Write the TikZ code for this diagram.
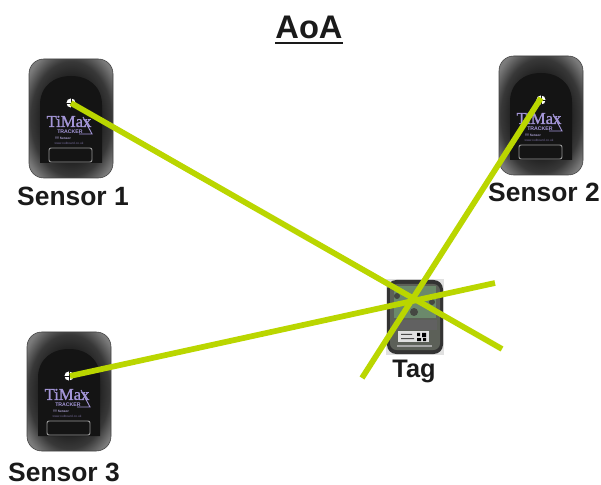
\documentclass[tikz,border=0pt]{standalone}
\usepackage{fontspec}
\setmainfont{Liberation Sans}
\newfontfamily\logofont[FakeBold=1.2]{Liberation Serif}
\usetikzlibrary{calc}
\definecolor{beam}{HTML}{BAD600}
\definecolor{labelc}{HTML}{1A1A1A}
\definecolor{logoc}{HTML}{A496D8}
\definecolor{boardc}{HTML}{5C6058}
\pgfdeclareradialshading{casegrad}{\pgfpointorigin}{
  color(0bp)=(black!95); color(14bp)=(black!92); color(24bp)=(black!78); color(31bp)=(black!52); color(50bp)=(black!42)}
\tikzset{
  x=0.75pt,y=-0.75pt,
  lab/.style={font=\bfseries\fontsize{19.8}{20}\selectfont,text=labelc,anchor=base,inner sep=0pt},
  taglab/.style={font=\bfseries\fontsize{19}{20}\selectfont,text=labelc,anchor=base,inner sep=0pt},
  ray/.style={draw=beam,line width=4.3pt},
  logotxt/.style={text=logoc,inner sep=0pt},
  sensorcase/.pic={
    \shade[draw=black!75,line width=0.4pt,rounded corners=11pt,shading=casegrad]
      (-42,-44) rectangle (42,75);
    \fill[black!92] (-31,60) -- (-31,2) .. controls (-31,-17) and (-17,-27) .. (0,-27)
      .. controls (17,-27) and (31,-17) .. (31,2) -- (31,60) -- cycle;
    \draw[black!40,line width=0.7pt,rounded corners=1.5pt] (-22,45) rectangle (21,59);
    \fill[white] (0,0) circle (4.6);
    \draw[black!92,line width=0.7pt] (-5,0) -- (5,0) (0,-5) -- (0,5);
    \node[logotxt,font=\logofont\fontsize{12.5}{13}\selectfont] at (-2,18.5) {TiMax};
    \node[logotxt,font=\bfseries\fontsize{3.9}{4}\selectfont] at (-1,29) {TRACKER};
    \draw[logoc,line width=0.7pt] (8,31) -- (21,31) -- (12,14);
    \node[text=logoc!80!white,inner sep=0pt,font=\bfseries\fontsize{2.4}{3}\selectfont] at (-8,35) {TT Sensor};
    \node[text=logoc!70!black,inner sep=0pt,font=\fontsize{2.4}{3}\selectfont] at (-2,40) {www.outboard.co.uk};
  }
}
\begin{document}
\begin{tikzpicture}
\useasboundingbox (0,0) rectangle (601,485);
% title
\node[lab,font=\bfseries\fontsize{24.5}{26}\selectfont] (title) at (309,39) {AoA};
\draw[labelc,line width=1.6pt] (275,43) -- (343,43);
% sensors
\pic at (71,103) {sensorcase};
\pic at (541,100) {sensorcase};
\pic at (69,376) {sensorcase};
\coordinate (s1) at (71,103);
\coordinate (s2) at (541,98);
\coordinate (s3) at (70,376);
% tag
\begin{scope}
  \fill[black!12] (386,279) rectangle (444,355);
  \fill[black!80,rounded corners=7pt] (387,280) rectangle (443,354);
  \fill[boardc,rounded corners=5pt] (390,284) rectangle (440,350);
  \fill[green!20!black!58] (394,286) rectangle (436,318);
  \fill[black!62] (393,320) rectangle (437,330);
  \fill[black!25!boardc] (397,296) circle (3) (432,302) circle (3) (414,312) circle (4);
  \fill[white!88!black] (398,331) rectangle (429,342);
  \fill[black] (417,333) rectangle (420,336) (422,333) rectangle (426,337) (417,338) rectangle (421,341) (423,338) rectangle (426,341);
  \fill[black!70] (401,334) rectangle (412,335) (401,338) rectangle (414,339);
  \fill[black!35] (397,345) rectangle (432,347);
\end{scope}
\node[lab] (sensor1) at (73,205) {Sensor 1};
\node[lab] (sensor2) at (544,202) {Sensor 2};
\node[lab] (sensor3) at (64,481) {Sensor 3};
\node[taglab] (tag) at (414,378) {Tag};
% rays
\coordinate (e1) at (502,349);
\coordinate (e2) at (362,378);
\coordinate (e3) at (495,283);
\draw[ray] (s1) -- (e1);
\draw[ray] (s2) -- (e2);
\draw[ray] (s3) -- (e3);
\end{tikzpicture}
\end{document}
